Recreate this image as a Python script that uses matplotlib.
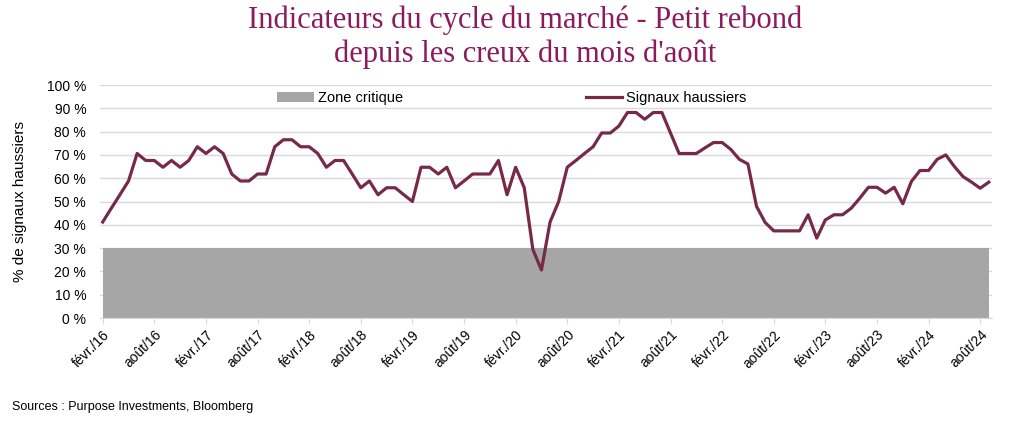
import numpy as np
import matplotlib
matplotlib.use('Agg')
import matplotlib.pyplot as plt
from matplotlib.patches import Patch
from matplotlib.lines import Line2D

# monthly readings, févr. 2016 -> sept. 2024 (% of bullish signals)
signaux = [41.2, 47.1, 52.9, 58.8, 70.6, 67.6, 67.6, 64.7, 67.6, 64.7, 67.6, 73.5,
           70.6, 73.5, 70.6, 61.8, 58.8, 58.8, 61.8, 61.8, 73.5, 76.5, 76.5, 73.5,
           73.5, 70.6, 64.7, 67.6, 67.6, 61.8, 55.9, 58.8, 52.9, 55.9, 55.9, 52.9,
           50.0, 64.7, 64.7, 61.8, 64.7, 55.9, 58.8, 61.8, 61.8, 61.8, 67.6, 52.9,
           64.7, 55.9, 29.4, 20.6, 41.2, 50.0, 64.7, 67.6, 70.6, 73.5, 79.4, 79.4,
           82.4, 88.2, 88.2, 85.3, 88.2, 88.2, 79.4, 70.6, 70.6, 70.6, 73.0, 75.3,
           75.3, 72.4, 68.1, 66.1, 47.9, 41.0, 37.4, 37.4, 37.4, 37.4, 44.3, 34.3,
           42.1, 44.3, 44.3, 47.1, 51.4, 56.1, 56.1, 53.6, 56.1, 49.0, 58.6, 63.3,
           63.3, 68.1, 70.0, 65.0, 60.7, 58.3, 55.7, 58.3]
zone_critique = 30
tick_labels = ['févr./16', 'août/16', 'févr./17', 'août/17', 'févr./18', 'août/18',
               'févr./19', 'août/19', 'févr./20', 'août/20', 'févr./21', 'août/21',
               'févr./22', 'août/22', 'févr./23', 'août/23', 'févr./24', 'août/24']
y_ticks = [0, 10, 20, 30, 40, 50, 60, 70, 80, 90, 100]

plt.rcParams['font.family'] = ['Liberation Sans', 'DejaVu Sans']

line_color = '#772A48'
zone_color = '#A6A6A6'
title_color = '#8C1B5E'

months = np.arange(len(signaux))

fig = plt.figure(figsize=(10.24, 4.28), dpi=100)
ax = fig.add_axes([0.0977, 0.257, 0.8713, 0.5444])

ax.fill_between(months, 0, zone_critique, color=zone_color, linewidth=0, zorder=1)
ax.plot(months, signaux, color=line_color, linewidth=2.3, zorder=3)

ax.set_xlim(-0.31, len(signaux) - 0.6)
ax.set_ylim(0, 100)
ax.set_yticks(y_ticks)
ax.set_yticklabels(['%d %%' % v for v in y_ticks], fontsize=10)
ax.set_xticks(np.arange(0, 6 * len(tick_labels), 6))
ax.set_xticklabels(tick_labels, rotation=45, ha='right', rotation_mode='anchor', fontsize=10)
ax.tick_params(axis='y', length=0, pad=10)
ax.tick_params(axis='x', length=4, color='#D9D9D9', pad=3)
ax.grid(axis='y', color='#D9D9D9', linewidth=1, zorder=0)
ax.set_axisbelow(True)
for s in ['top', 'right', 'left']:
   ax.spines[s].set_visible(False)
ax.spines['bottom'].set_color('#D9D9D9')
ax.set_ylabel('% de signaux haussiers', fontsize=11, labelpad=14)

handles = [Patch(facecolor=zone_color, edgecolor='none'),
           Line2D([0], [0], color=line_color, linewidth=2.3)]
ax.legend(handles, ['Zone critique', 'Signaux haussiers'], ncol=2, loc='center',
          bbox_to_anchor=(0.5, 0.77), bbox_transform=fig.transFigure,
          frameon=False, fontsize=10.5, handlelength=2.5, handletextpad=0.3,
          columnspacing=12.5, borderpad=0)

fig.text(0.513, 0.912, 'Indicateurs du cycle du marché - Petit rebond\ndepuis les creux du mois d\'août',
         ha='center', va='center', fontsize=22, color=title_color,
         family=['Liberation Serif', 'DejaVu Serif'], linespacing=1.2)
fig.text(0.012, 0.05, 'Sources : Purpose Investments, Bloomberg', fontsize=9, va='center')

fig.savefig('out.png', dpi=100)
